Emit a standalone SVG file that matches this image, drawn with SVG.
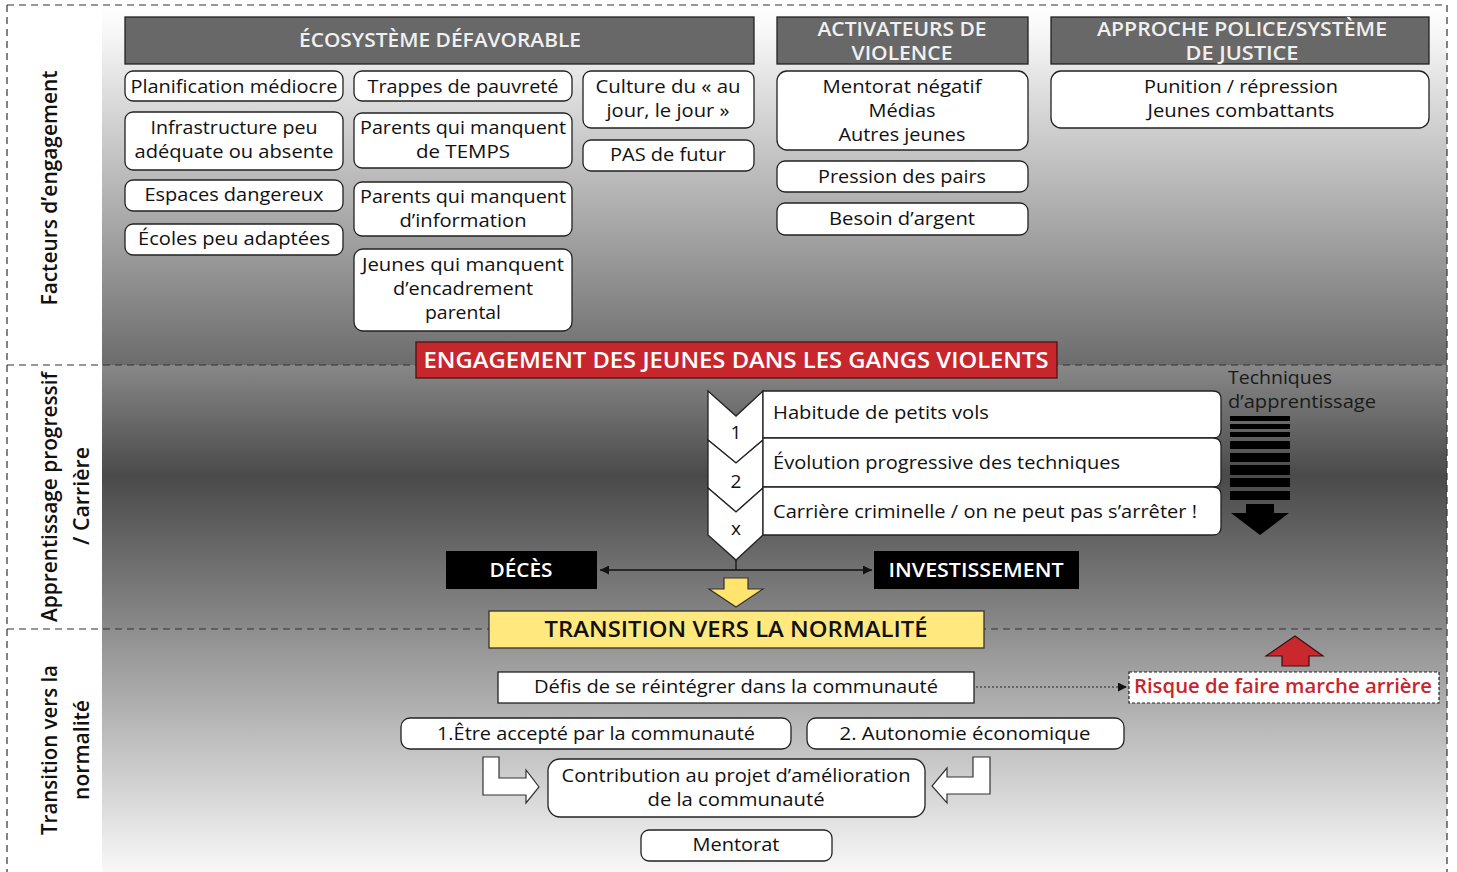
<svg xmlns="http://www.w3.org/2000/svg" width="1457" height="872" viewBox="0 0 1457 872">
<defs>
<linearGradient id="gTop" gradientUnits="userSpaceOnUse" x1="0" y1="6" x2="0" y2="365">
<stop offset="0" stop-color="#ffffff"/><stop offset="0.08" stop-color="#f6f6f6"/><stop offset="1" stop-color="#6c6c6c"/>
</linearGradient>
<linearGradient id="gMid" gradientUnits="userSpaceOnUse" x1="0" y1="365" x2="0" y2="629">
<stop offset="0" stop-color="#888888"/><stop offset="0.42" stop-color="#4a4a4a"/><stop offset="1" stop-color="#8a8a8a"/>
</linearGradient>
<linearGradient id="gBot" gradientUnits="userSpaceOnUse" x1="0" y1="629" x2="0" y2="872">
<stop offset="0" stop-color="#8e8e8e"/><stop offset="1" stop-color="#f8f8f8"/>
</linearGradient>
<marker id="ah" viewBox="0 0 10 10" refX="10" refY="5" markerWidth="9" markerHeight="9" markerUnits="userSpaceOnUse" orient="auto-start-reverse">
<path d="M0,0 L10,5 L0,10 z" fill="#111"/>
</marker>
<style>
text{font-family:"Open Sans","Noto Sans","Liberation Sans",sans-serif;fill:#111;}
.t{font-size:19px;text-anchor:middle;}
.tl{font-size:19px;}
.hd{font-size:19px;font-weight:600;fill:#f0f0f0;text-anchor:middle;}
.side{font-size:21px;font-weight:600;text-anchor:middle;}
.box{fill:#ffffff;stroke:#222;stroke-width:1.3;}
.hbox{fill:#686868;stroke:#222;stroke-width:1.3;}
.blk{fill:#000;}
.wb{font-size:19px;font-weight:600;fill:#fff;text-anchor:middle;}
.dash{fill:none;stroke:#333;stroke-width:1.2;stroke-dasharray:7 5;}
</style>
</defs>

<!-- background panels -->
<rect x="102" y="6" width="1345" height="359" fill="url(#gTop)"/>
<rect x="102" y="365" width="1345" height="264" fill="url(#gMid)"/>
<rect x="102" y="629" width="1345" height="243" fill="url(#gBot)"/>

<!-- frame and dividers -->
<g id="frame">
<line class="dash" x1="7" y1="5" x2="1447" y2="5"/>
<line class="dash" x1="7" y1="5" x2="7" y2="872"/>
<line class="dash" x1="1447" y1="5" x2="1447" y2="872"/>
<line class="dash" x1="7" y1="365" x2="1447" y2="365"/>
<line class="dash" x1="7" y1="629" x2="1447" y2="629"/>
</g>

<!-- side labels -->
<g id="side-labels">
<text class="side" transform="translate(57,188) rotate(-90)" textLength="235" lengthAdjust="spacingAndGlyphs">Facteurs d’engagement</text>
<text class="side" transform="translate(57,497) rotate(-90)" textLength="250" lengthAdjust="spacingAndGlyphs">Apprentissage progressif</text>
<text class="side" transform="translate(89,496) rotate(-90)" textLength="98" lengthAdjust="spacingAndGlyphs">/ Carrière</text>
<text class="side" transform="translate(57,750) rotate(-90)" textLength="170" lengthAdjust="spacingAndGlyphs">Transition vers la</text>
<text class="side" transform="translate(89,750) rotate(-90)" textLength="100" lengthAdjust="spacingAndGlyphs">normalité</text>
</g>

<!-- headers -->
<g id="h-ecosysteme"><rect class="hbox" x="125" y="17" width="629" height="47"/><text class="hd" x="440" y="47" textLength="282" lengthAdjust="spacingAndGlyphs">ÉCOSYSTÈME DÉFAVORABLE</text></g>
<g id="h-activateurs"><rect class="hbox" x="777" y="17" width="251" height="47"/><text class="hd" x="902" y="36" textLength="169" lengthAdjust="spacingAndGlyphs">ACTIVATEURS DE</text><text class="hd" x="902" y="60" textLength="101" lengthAdjust="spacingAndGlyphs">VIOLENCE</text></g>
<g id="h-approche"><rect class="hbox" x="1051" y="17" width="378" height="47"/><text class="hd" x="1242" y="36" textLength="290" lengthAdjust="spacingAndGlyphs">APPROCHE POLICE/SYSTÈME</text><text class="hd" x="1242" y="60" textLength="113" lengthAdjust="spacingAndGlyphs">DE JUSTICE</text></g>

<!-- ecosystem column 1 -->
<g id="n-planification"><rect class="box" x="125" y="71" width="218" height="30" rx="8"/><text class="t" x="234" y="93" textLength="207" lengthAdjust="spacingAndGlyphs">Planification médiocre</text></g>
<g id="n-infrastructure"><rect class="box" x="125" y="112" width="218" height="58" rx="8"/><text class="t" x="234" y="134" textLength="167" lengthAdjust="spacingAndGlyphs">Infrastructure peu</text><text class="t" x="234" y="158" textLength="199" lengthAdjust="spacingAndGlyphs">adéquate ou absente</text></g>
<g id="n-espaces"><rect class="box" x="125" y="180" width="218" height="31" rx="8"/><text class="t" x="234" y="201" textLength="179" lengthAdjust="spacingAndGlyphs">Espaces dangereux</text></g>
<g id="n-ecoles"><rect class="box" x="125" y="224" width="218" height="31" rx="8"/><text class="t" x="234" y="245" textLength="192" lengthAdjust="spacingAndGlyphs">Écoles peu adaptées</text></g>

<!-- ecosystem column 2 -->
<g id="n-trappes"><rect class="box" x="354" y="71" width="218" height="30" rx="8"/><text class="t" x="463" y="93" textLength="191" lengthAdjust="spacingAndGlyphs">Trappes de pauvreté</text></g>
<g id="n-temps"><rect class="box" x="354" y="113" width="218" height="55" rx="8"/><text class="t" x="463" y="134" textLength="206" lengthAdjust="spacingAndGlyphs">Parents qui manquent</text><text class="t" x="463" y="158" textLength="94" lengthAdjust="spacingAndGlyphs">de TEMPS</text></g>
<g id="n-information"><rect class="box" x="354" y="182" width="218" height="54" rx="8"/><text class="t" x="463" y="203" textLength="206" lengthAdjust="spacingAndGlyphs">Parents qui manquent</text><text class="t" x="463" y="227" textLength="127" lengthAdjust="spacingAndGlyphs">d’information</text></g>
<g id="n-encadrement"><rect class="box" x="354" y="249" width="218" height="82" rx="9"/><text class="t" x="463" y="271" textLength="202" lengthAdjust="spacingAndGlyphs">Jeunes qui manquent</text><text class="t" x="463" y="295" textLength="140" lengthAdjust="spacingAndGlyphs">d’encadrement</text><text class="t" x="463" y="319" textLength="76" lengthAdjust="spacingAndGlyphs">parental</text></g>

<!-- ecosystem column 3 -->
<g id="n-culture"><rect class="box" x="583" y="71" width="171" height="57" rx="8"/><text class="t" x="668" y="93" textLength="145" lengthAdjust="spacingAndGlyphs">Culture du « au</text><text class="t" x="668" y="117" textLength="123" lengthAdjust="spacingAndGlyphs">jour, le jour »</text></g>
<g id="n-futur"><rect class="box" x="583" y="140" width="171" height="31" rx="8"/><text class="t" x="668" y="161" textLength="116" lengthAdjust="spacingAndGlyphs">PAS de futur</text></g>

<!-- activateurs -->
<g id="n-mentorat-negatif"><rect class="box" x="777" y="71" width="251" height="79" rx="10"/><text class="t" x="902" y="93" textLength="159" lengthAdjust="spacingAndGlyphs">Mentorat négatif</text><text class="t" x="902" y="117" textLength="67" lengthAdjust="spacingAndGlyphs">Médias</text><text class="t" x="902" y="141" textLength="127" lengthAdjust="spacingAndGlyphs">Autres jeunes</text></g>
<g id="n-pression"><rect class="box" x="777" y="161" width="251" height="31" rx="8"/><text class="t" x="902" y="183" textLength="168" lengthAdjust="spacingAndGlyphs">Pression des pairs</text></g>
<g id="n-argent"><rect class="box" x="777" y="203" width="251" height="32" rx="8"/><text class="t" x="902" y="225" textLength="146" lengthAdjust="spacingAndGlyphs">Besoin d’argent</text></g>

<!-- approche -->
<g id="n-punition"><rect class="box" x="1051" y="71" width="378" height="57" rx="10"/><text class="t" x="1241" y="93" textLength="194" lengthAdjust="spacingAndGlyphs">Punition / répression</text><text class="t" x="1241" y="117" textLength="187" lengthAdjust="spacingAndGlyphs">Jeunes combattants</text></g>

<!-- engagement banner -->
<g id="n-engagement"><rect x="416" y="342" width="641" height="36" fill="#c8262d" stroke="#4a1515" stroke-width="1.3"/><text x="736" y="368" style="font-size:21px;font-weight:600;fill:#fff;text-anchor:middle" textLength="625" lengthAdjust="spacingAndGlyphs">ENGAGEMENT DES JEUNES DANS LES GANGS VIOLENTS</text></g>

<!-- steps -->
<g id="n-step1">
<path class="box" d="M708,391 L736,416 L763,391 L763,440 L736,463 L708,440 Z"/>
<path class="box" d="M763,391 H1213 Q1221,391 1221,399 V430 Q1221,438 1213,438 H763 Z"/>
<text class="t" x="736" y="439">1</text>
<text class="tl" x="773" y="419" textLength="216" lengthAdjust="spacingAndGlyphs">Habitude de petits vols</text>
</g>
<g id="n-step2">
<path class="box" d="M708,440 L736,463 L763,440 L763,488 L736,512 L708,488 Z"/>
<path class="box" d="M763,438 H1213 Q1221,438 1221,446 V479 Q1221,487 1213,487 H763 Z"/>
<text class="t" x="736" y="488">2</text>
<text class="tl" x="773" y="469" textLength="347" lengthAdjust="spacingAndGlyphs">Évolution progressive des techniques</text>
</g>
<g id="n-step3">
<path class="box" d="M708,488 L736,512 L763,488 L763,535 L736,560 L708,535 Z"/>
<path class="box" d="M763,487 H1213 Q1221,487 1221,495 V527 Q1221,535 1213,535 H763 Z"/>
<text class="t" x="736" y="535">x</text>
<text class="tl" x="773" y="518" textLength="424" lengthAdjust="spacingAndGlyphs">Carrière criminelle / on ne peut pas s’arrêter !</text>
</g>

<!-- techniques d'apprentissage -->
<g id="n-techniques">
<text class="tl" x="1228" y="384" style="fill:#1a1a1a" textLength="104" lengthAdjust="spacingAndGlyphs">Techniques</text>
<text class="tl" x="1228" y="408" style="fill:#1a1a1a" textLength="148" lengthAdjust="spacingAndGlyphs">d’apprentissage</text>
<rect class="blk" x="1230" y="416" width="60" height="5"/>
<rect class="blk" x="1230" y="424" width="60" height="5"/>
<rect class="blk" x="1230" y="432" width="60" height="5"/>
<rect class="blk" x="1230" y="441" width="60" height="8"/>
<rect class="blk" x="1230" y="453" width="60" height="9"/>
<rect class="blk" x="1230" y="465" width="60" height="10"/>
<rect class="blk" x="1230" y="478" width="60" height="9"/>
<rect class="blk" x="1230" y="491" width="60" height="9"/>
<path class="blk" d="M1246,504 H1274 V513 H1289 L1260,535 L1231,513 H1246 Z"/>
</g>

<!-- outcomes -->
<g id="n-deces"><rect x="446" y="551" width="151" height="38" fill="#000"/><text class="wb" x="521" y="577" textLength="63" lengthAdjust="spacingAndGlyphs">DÉCÈS</text></g>
<g id="n-investissement"><rect x="874" y="551" width="205" height="38" fill="#000"/><text class="wb" x="976" y="577" textLength="175" lengthAdjust="spacingAndGlyphs">INVESTISSEMENT</text></g>

<!-- transition -->
<g id="n-yellow-arrow"><path d="M724,578 H748 V589 H763 L736,607 L709,589 H724 Z" fill="#ffe46e" stroke="#333" stroke-width="1.2"/></g>
<g id="n-transition"><rect x="489" y="611" width="495" height="37" fill="#ffe97e" stroke="#333" stroke-width="1.3"/><text x="736" y="637" style="font-size:21px;font-weight:600;fill:#111;text-anchor:middle" textLength="383" lengthAdjust="spacingAndGlyphs">TRANSITION VERS LA NORMALITÉ</text></g>

<!-- bottom section -->
<g id="n-defis"><rect class="box" x="498" y="672" width="476" height="31"/><text class="t" x="736" y="693" textLength="404" lengthAdjust="spacingAndGlyphs">Défis de se réintégrer dans la communauté</text></g>
<g id="n-risque"><rect x="1129" y="672" width="310" height="31" fill="#fff" stroke="#222" stroke-width="1.2" stroke-dasharray="3 2"/><text x="1283" y="693" style="font-size:19px;font-weight:600;fill:#c8262d;text-anchor:middle" textLength="298" lengthAdjust="spacingAndGlyphs">Risque de faire marche arrière</text></g>
<g id="n-red-arrow"><path d="M1282,666 V656 H1266 L1295,636 L1323,656 H1309 V666 Z" fill="#c8282e" stroke="#3a1010" stroke-width="1.2"/></g>
<g id="n-accepte"><rect class="box" x="401" y="718" width="390" height="31" rx="9"/><text class="t" x="596" y="740" textLength="318" lengthAdjust="spacingAndGlyphs">1.Être accepté par la communauté</text></g>
<g id="n-autonomie"><rect class="box" x="807" y="718" width="317" height="31" rx="9"/><text class="t" x="965" y="740" textLength="251" lengthAdjust="spacingAndGlyphs">2. Autonomie économique</text></g>
<g id="n-contribution"><rect class="box" x="548" y="759" width="377" height="58" rx="12"/><text class="t" x="736" y="782" textLength="349" lengthAdjust="spacingAndGlyphs">Contribution au projet d’amélioration</text><text class="t" x="736" y="806" textLength="177" lengthAdjust="spacingAndGlyphs">de la communauté</text></g>
<g id="n-mentorat"><rect class="box" x="641" y="830" width="191" height="31" rx="8"/><text class="t" x="736" y="851" textLength="87" lengthAdjust="spacingAndGlyphs">Mentorat</text></g>

<!-- connectors -->
<g id="connectors">
<line x1="736" y1="560" x2="736" y2="570" stroke="#111" stroke-width="1.3"/>
<line x1="600" y1="570" x2="872" y2="570" stroke="#111" stroke-width="1.3" marker-start="url(#ah)" marker-end="url(#ah)"/>
<line x1="976" y1="687" x2="1127" y2="687" stroke="#222" stroke-width="1.2" stroke-dasharray="2 2" marker-end="url(#ah)"/>
<path d="M483,757 H499 V778 H526 V770 L539,787 L526,803 V795 H483 Z" fill="#fff" stroke="#333" stroke-width="1.2"/>
<path d="M990,757 H973 V777 H947 V768 L932,786 L947,803 V794 H990 Z" fill="#fff" stroke="#333" stroke-width="1.2"/>
</g>
</svg>
